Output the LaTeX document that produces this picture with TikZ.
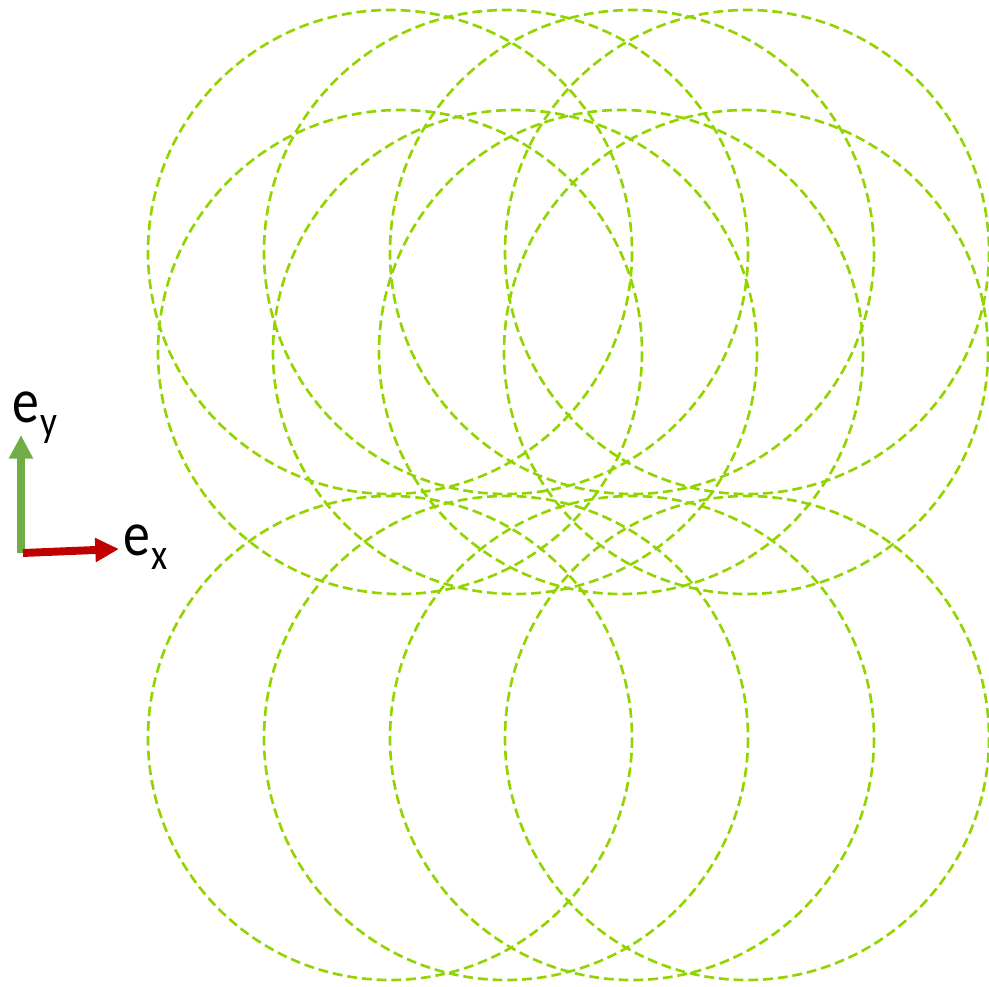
\documentclass[tikz,border=0pt]{standalone}
\usepackage{fontspec}
\setmainfont{Carlito}
\definecolor{LimeGreen}{RGB}{146, 212, 0}
\definecolor{AxisGreen}{RGB}{112, 173, 71}
\definecolor{AxisRed}{RGB}{192, 0, 0}
\usepackage{tikz}
\usetikzlibrary{arrows.meta, positioning}
\newcommand{\basisname}[1]{\scalebox{0.85}[1]{\fontsize{36}{40}\selectfont e}\kern1pt\raisebox{-8pt}{\scalebox{0.85}[1]{\fontsize{25}{28}\selectfont #1}}}

\begin{document}
\begin{tikzpicture}[
            x=0.02cm, y=-0.02cm,
            ring/.style={draw=LimeGreen, line width=1.5pt, dash pattern=on 5.6pt off 2.8pt},
            axis/.style={line width=4.5pt, -{Triangle[length=13.5pt, width=13pt]}},
            label/.style={inner sep=0pt, anchor=base west}
        ]
        \useasboundingbox (0, 0) rectangle (989, 986);

        % Top row of circles
        \draw[ring] (390, 252) circle (242);
        \draw[ring] (506, 252) circle (242);
        \draw[ring] (632, 252) circle (242);
        \draw[ring] (747, 252) circle (242);

        % Middle row of circles
        \draw[ring] (400, 352) circle (242);
        \draw[ring] (515, 352) circle (242);
        \draw[ring] (621, 352) circle (242);
        \draw[ring] (746, 352) circle (242);

        % Bottom row of circles
        \draw[ring] (390, 738) circle (242);
        \draw[ring] (506, 738) circle (242);
        \draw[ring] (632, 738) circle (242);
        \draw[ring] (747, 738) circle (242);

        % Basis vectors
        \coordinate (origin) at (21, 553);
        \coordinate (ytip) at (21, 435);
        \coordinate (xstart) at (23, 553);
        \coordinate (xtip) at (119, 549);
        \draw[axis, AxisGreen] (origin) -- (ytip);
        \draw[axis, AxisRed] (xstart) -- (xtip);
        \node[label] (ey) at (12, 422) {\basisname{y}};
        \node[label] (ex) at (123, 555) {\basisname{x}};

        \end{tikzpicture}
\end{document}
